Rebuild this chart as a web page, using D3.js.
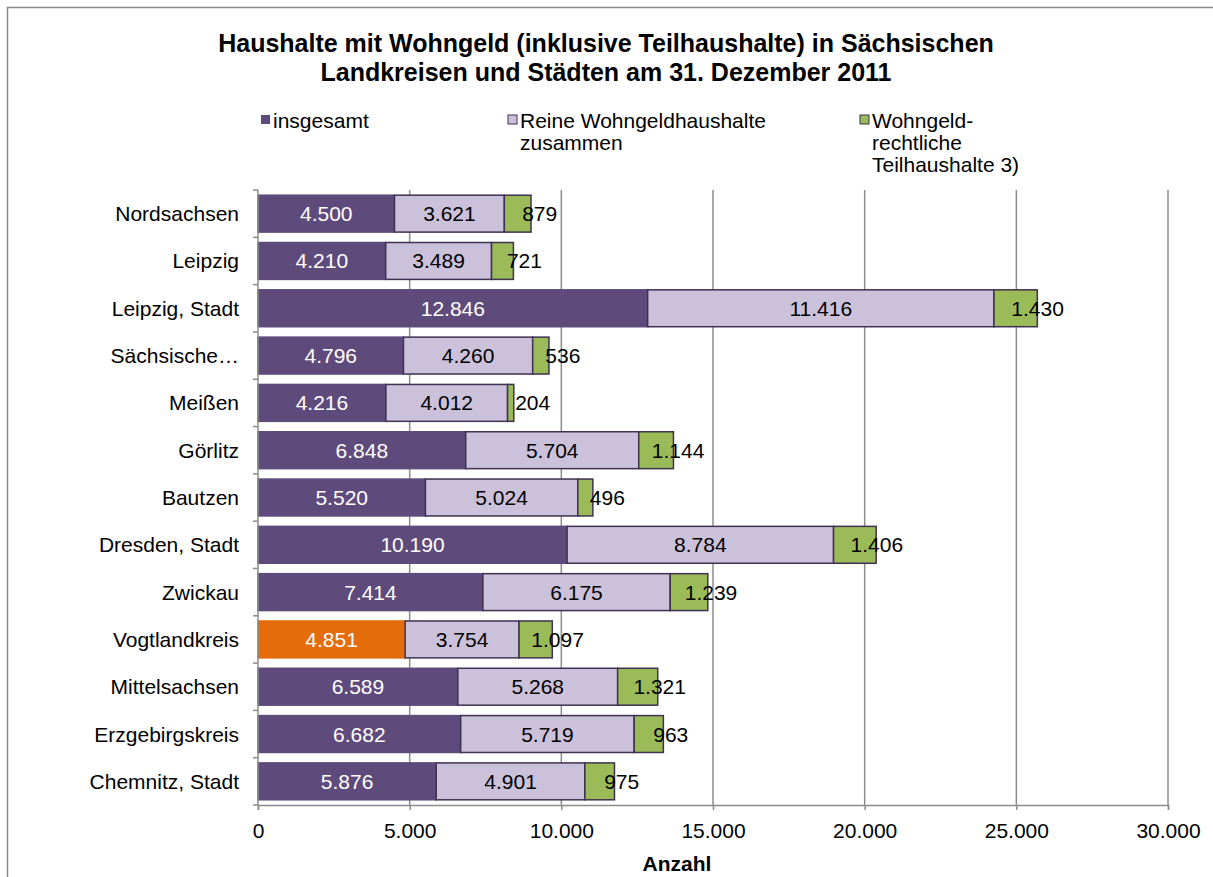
<!DOCTYPE html>
<html>
<head>
<meta charset="utf-8">
<script src="https://cdn.jsdelivr.net/npm/d3@7"></script>
<style>
  body { margin: 0; background: #fff; }
  svg { display: block; font-family: "Liberation Sans", Arial, sans-serif; }
</style>
</head>
<body>
<div id="chart"></div>
<script>
// data
const regions = ["Nordsachsen", "Leipzig", "Leipzig, Stadt", "Sächsische…", "Meißen", "Görlitz",
  "Bautzen", "Dresden, Stadt", "Zwickau", "Vogtlandkreis", "Mittelsachsen", "Erzgebirgskreis", "Chemnitz, Stadt"];
const insgesamt = [4500, 4210, 12846, 4796, 4216, 6848, 5520, 10190, 7414, 4851, 6589, 6682, 5876];
const reine = [3621, 3489, 11416, 4260, 4012, 5704, 5024, 8784, 6175, 3754, 5268, 5719, 4901];
const teil = [879, 721, 1430, 536, 204, 1144, 496, 1406, 1239, 1097, 1321, 963, 975];
const seriesNames = ["insgesamt", "Reine Wohngeldhaushalte|zusammen", "Wohngeld-|rechtliche|Teilhaushalte 3)"];
const xTicks = [0, 5000, 10000, 15000, 20000, 25000, 30000];
const highlight = "Vogtlandkreis";

const W = 1213, H = 877;
const plot = { left: 258, right: 1168, top: 190, bottom: 805 };
const colors = ["#5f4b7b", "#ccc1da", "#9bbb59"];
const stroke = "#3f3151";
const axisColor = "#8c8c8c";
const fs = 21;
// the last series' labels sit a bit right of the segment centre in the original
const labelShift = [0, 0, 22];
const fmt = v => d3.format(",")(v).replace(/,/g, ".");

const svg = d3.select("#chart").append("svg").attr("width", W).attr("height", H);

// outer frame (cut off at right/bottom like the screenshot)
svg.append("rect").attr("x", 7.5).attr("y", 7.5).attr("width", W).attr("height", H)
  .attr("fill", "none").attr("stroke", "#888").attr("stroke-width", 1.5);

// title
const title = svg.append("text").attr("text-anchor", "middle")
  .attr("font-size", 25).attr("font-weight", 700).attr("fill", "#000");
title.append("tspan").attr("x", 606).attr("y", 52).text("Haushalte mit Wohngeld (inklusive Teilhaushalte) in Sächsischen");
title.append("tspan").attr("x", 606).attr("y", 81).text("Landkreisen und Städten am 31. Dezember 2011");

// legend
const legendX = [261, 508, 860];
seriesNames.forEach((name, i) => {
  const lg = svg.append("g");
  lg.append("rect").attr("x", legendX[i]).attr("y", 115).attr("width", 9).attr("height", 9)
    .attr("fill", colors[i]).attr("stroke", i === 0 ? "none" : stroke).attr("stroke-width", 1);
  name.split("|").forEach((line, j) => {
    lg.append("text").attr("x", legendX[i] + 12).attr("y", 128 + j * 22)
      .attr("font-size", fs).attr("fill", "#000").text(line);
  });
});

const x = d3.scaleLinear().domain([0, 30000]).range([plot.left, plot.right]);
const y = d3.scaleBand().domain(regions).range([plot.top, plot.bottom]).paddingInner(0.22).paddingOuter(0.11);

// gridlines
svg.append("g").selectAll("line").data(xTicks.slice(1)).join("line")
  .attr("x1", d => x(d)).attr("x2", d => x(d))
  .attr("y1", plot.top).attr("y2", plot.bottom)
  .attr("stroke", axisColor).attr("stroke-width", 1.5);

// stacked bars
const rows = regions.map((r, i) => ({ region: r, vals: [insgesamt[i], reine[i], teil[i]] }));
const stack = d3.stack().keys([0, 1, 2]).value((d, k) => d.vals[k]);
const layers = stack(rows);

layers.forEach((layer, k) => {
  const g = svg.append("g");
  g.selectAll("rect").data(layer).join("rect")
    .attr("x", d => x(d[0]))
    .attr("y", d => y(d.data.region))
    .attr("width", d => x(d[1]) - x(d[0]))
    .attr("height", y.bandwidth())
    .attr("fill", d => (k === 0 && d.data.region === highlight) ? "#e46c0a" : colors[k])
    .attr("stroke", d => k === 0 ? (d.data.region === highlight ? "#e46c0a" : colors[0]) : stroke)
    .attr("stroke-width", 1.5);
  g.selectAll("text").data(layer).join("text")
    .attr("x", d => (x(d[0]) + x(d[1])) / 2 + labelShift[k])
    .attr("y", d => y(d.data.region) + y.bandwidth() / 2 + 7.5)
    .attr("text-anchor", "middle")
    .attr("font-size", fs)
    .attr("fill", k === 0 ? "#fff" : "#000")
    .text(d => fmt(d.data.vals[k]));
});

// y axis
const yAxis = svg.append("g").attr("transform", `translate(${plot.left},0)`);
yAxis.append("line").attr("x1", 0).attr("x2", 0).attr("y1", plot.top).attr("y2", plot.bottom)
  .attr("stroke", axisColor).attr("stroke-width", 1.5);
const step = (plot.bottom - plot.top) / regions.length;
yAxis.selectAll("line.tick").data(d3.range(regions.length + 1)).join("line")
  .attr("class", "tick")
  .attr("x1", -5).attr("x2", 0)
  .attr("y1", d => plot.top + d * step).attr("y2", d => plot.top + d * step)
  .attr("stroke", axisColor).attr("stroke-width", 1.5);
yAxis.selectAll("text").data(regions).join("text")
  .attr("x", -19).attr("y", d => y(d) + y.bandwidth() / 2 + 7.5)
  .attr("text-anchor", "end").attr("font-size", fs).attr("fill", "#000")
  .text(d => d);

// x axis
const xAxis = svg.append("g").attr("transform", `translate(0,${plot.bottom})`)
  .call(d3.axisBottom(x).tickValues(xTicks).tickSize(5).tickPadding(13).tickFormat(fmt));
xAxis.select(".domain").attr("stroke", axisColor).attr("stroke-width", 1.5);
xAxis.selectAll(".tick line").attr("stroke", axisColor).attr("stroke-width", 1.5);
xAxis.selectAll(".tick text").attr("font-size", fs).attr("fill", "#000")
  .attr("font-family", "'Liberation Sans', Arial, sans-serif");

svg.append("text").attr("x", 677).attr("y", 871).attr("text-anchor", "middle")
  .attr("font-size", fs).attr("font-weight", 700).attr("fill", "#000").text("Anzahl");
</script>
</body>
</html>
